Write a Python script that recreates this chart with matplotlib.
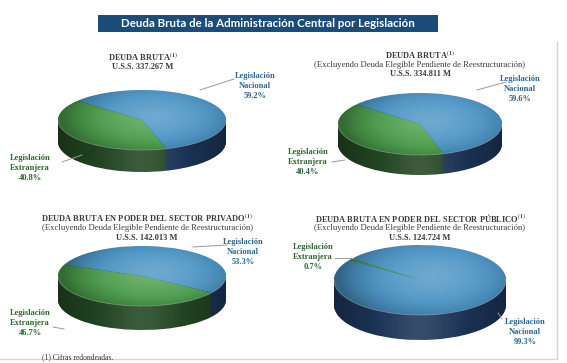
import numpy as np
import matplotlib.pyplot as plt
from matplotlib.patches import Circle, PathPatch, Rectangle
from matplotlib.path import Path

plt.rcParams['mathtext.fontset'] = 'stix'

W, H = 567, 363

# data
deuda_bruta = [59.2, 40.8]
deuda_excl = [59.6, 40.4]
deuda_privado = [53.3, 46.7]
deuda_publico = [99.3, 0.7]
titulos = [r'DEUDA BRUTA$^{\mathbf{(1)}}$',
           r'DEUDA BRUTA$^{\mathbf{(1)}}$',
           r'DEUDA BRUTA EN PODER DEL SECTOR PRIVADO$^{\mathbf{(1)}}$',
           r'DEUDA BRUTA EN PODER DEL SECTOR PÚBLICO$^{\mathbf{(1)}}$']
subtitulo = '(Excluyendo Deuda Elegible Pendiente de Reestructuración)'
montos = ['U.S.S. 337.267 M', 'U.S.S. 334.811 M', 'U.S.S. 142.013 M', 'U.S.S. 124.724 M']
etiquetas = ['Legislación\nNacional', 'Legislación\nExtranjera']

top_colors = ['#4a93c4', '#4c9e4c']
side_colors = ['#1c3457', '#224522']
txt_colors = ['#2a6592', '#2f662f']

fig = plt.figure(figsize=(W / 100, H / 100), dpi=100)
fig.patch.set_facecolor('white')


def overlay(ax, color, alpha, extent, clip):
    img = np.zeros(alpha.shape + (4,))
    img[..., :3] = color
    img[..., 3] = alpha
    ax.imshow(img, extent=extent, origin='lower', clip_path=clip,
              zorder=5, aspect='auto', interpolation='bilinear')


def pie3d(cx, cy, rx, ry, depth, values, start):
    pad = 3
    ax = fig.add_axes([(cx - rx - pad) / W, 1 - (cy + ry + depth + pad) / H,
                       (2 * rx + 2 * pad) / W, (2 * ry + depth + 2 * pad) / H])
    d = depth / ry
    # side (stacked copies of the pie)
    for off in np.linspace(d, 0, 30)[:-1]:
        ax.pie(values, colors=side_colors, startangle=start, counterclock=False,
               center=(0, -off), wedgeprops=dict(linewidth=0))
    # side shading
    th = np.linspace(np.pi, 2 * np.pi, 100)
    verts = np.concatenate([np.c_[np.cos(th), np.sin(th)],
                            np.c_[np.cos(th[::-1]), np.sin(th[::-1]) - d]])
    side_path = PathPatch(Path(verts, closed=True), transform=ax.transData,
                          facecolor='none', edgecolor='none')
    ax.add_patch(side_path)
    g = np.linspace(-1, 1, 200)[None, :].repeat(2, axis=0)
    overlay(ax, 0.0, 0.55 * np.clip(np.abs(g) - 0.4, 0, 1) ** 1.3,
            (-1, 1, -1 - d, 0), side_path)
    overlay(ax, 1.0, 0.12 * np.exp(-(g / 0.35) ** 2), (-1, 1, -1 - d, 0), side_path)
    # top face
    ax.pie(values, colors=top_colors, startangle=start, counterclock=False,
           wedgeprops=dict(linewidth=0, zorder=4))
    circ = Circle((0, 0), 1, transform=ax.transData, facecolor='none', edgecolor='none')
    ax.add_patch(circ)
    gx, gy = np.meshgrid(np.linspace(-1, 1, 160), np.linspace(-1, 1, 160))
    r = np.hypot(gx - 0.15, (gy - 0.1) * 0.8)
    overlay(ax, 0.0, 0.32 * np.clip((r - 0.45) / 0.65, 0, 1) ** 2,
            (-1, 1, -1, 1), circ)
    overlay(ax, 1.0, 0.2 * np.exp(-(r / 0.55) ** 2), (-1, 1, -1, 1), circ)
    # light rim on the front edge
    ax.plot(np.cos(th), np.sin(th), color='white', alpha=0.3, lw=0.6, zorder=6)
    ax.set_xlim(-1 - pad / rx, 1 + pad / rx)
    ax.set_ylim(-1 - d - pad / ry, 1 + pad / ry)
    ax.set_aspect('auto')
    ax.axis('off')
    return ax


pie3d(142, 120, 84, 30, 22, deuda_bruta, 140)
pie3d(420, 124, 82, 31, 20, deuda_excl, 141)
pie3d(142, 276, 84, 30, 24, deuda_privado, 158)
pie3d(420, 280, 86, 35, 25, deuda_publico, 142.3)

ov = fig.add_axes([0, 0, 1, 1], zorder=10)
ov.set_xlim(0, W)
ov.set_ylim(H, 0)
ov.axis('off')

# main title
ov.add_patch(Rectangle((98, 15), 340, 17, facecolor='#1b4c7a', edgecolor='none'))
ov.text(268, 23.5, 'Deuda Bruta de la Administración Central por Legislación',
        ha='center', va='center', color='white', fontsize=8.3,
        fontweight='bold', family='Lato')

serif = 'Liberation Serif'
tc = '#3b3b3b'

# panel titles
ov.text(143, 57, titulos[0], ha='center', va='center', fontsize=6, fontweight='bold', family=serif, color=tc)
ov.text(143, 67, montos[0], ha='center', va='center', fontsize=6, fontweight='bold', family=serif, color=tc)

for x, y0, i in [(420, 55, 1), (147, 218, 2), (420, 218, 3)]:
    ov.text(x, y0, titulos[i], ha='center', va='center', fontsize=6, fontweight='bold', family=serif, color=tc)
    ov.text(x, y0 + 10, subtitulo, ha='center', va='center', fontsize=6.2, family=serif, color=tc)
    ov.text(x, y0 + 19.5, montos[i], ha='center', va='center', fontsize=6, fontweight='bold', family=serif, color=tc)


def etiqueta(x, y, i, val, line):
    ov.text(x, y, f'{etiquetas[i]}\n{val:.1f}%', ha='center', va='center',
            fontsize=6, fontweight='bold', family=serif, color=txt_colors[i],
            linespacing=1.35)
    ov.plot(line[0], line[1], color='#9a9a9a', lw=0.7)


etiqueta(255, 86, 0, deuda_bruta[0], ([200, 234], [90, 79]))
etiqueta(30, 168, 1, deuda_bruta[1], ([62, 82], [162, 155]))
etiqueta(520, 89, 0, deuda_excl[0], ([477, 506], [90, 82]))
etiqueta(308, 162, 1, deuda_excl[1], ([332, 345], [162, 160]))
etiqueta(243, 252, 0, deuda_privado[0], ([193, 227], [247, 245]))
etiqueta(30, 323, 1, deuda_privado[1], ([53, 64], [327, 329]))
etiqueta(525, 332, 0, deuda_publico[0], ([502, 498], [319, 313]))
etiqueta(313, 257, 1, deuda_publico[1], ([335, 354], [258, 258]))

ov.text(42, 357, '(1) Cifras redondeadas.', ha='left', va='center', fontsize=5.5,
        family=serif, color='#333333')

# frame lines
ov.plot([557, 557], [42, 358], color='#d6d6d6', lw=1)
ov.plot([0, 557], [358.5, 358.5], color='#d6d6d6', lw=1)

fig.savefig('out.png', dpi=100)
